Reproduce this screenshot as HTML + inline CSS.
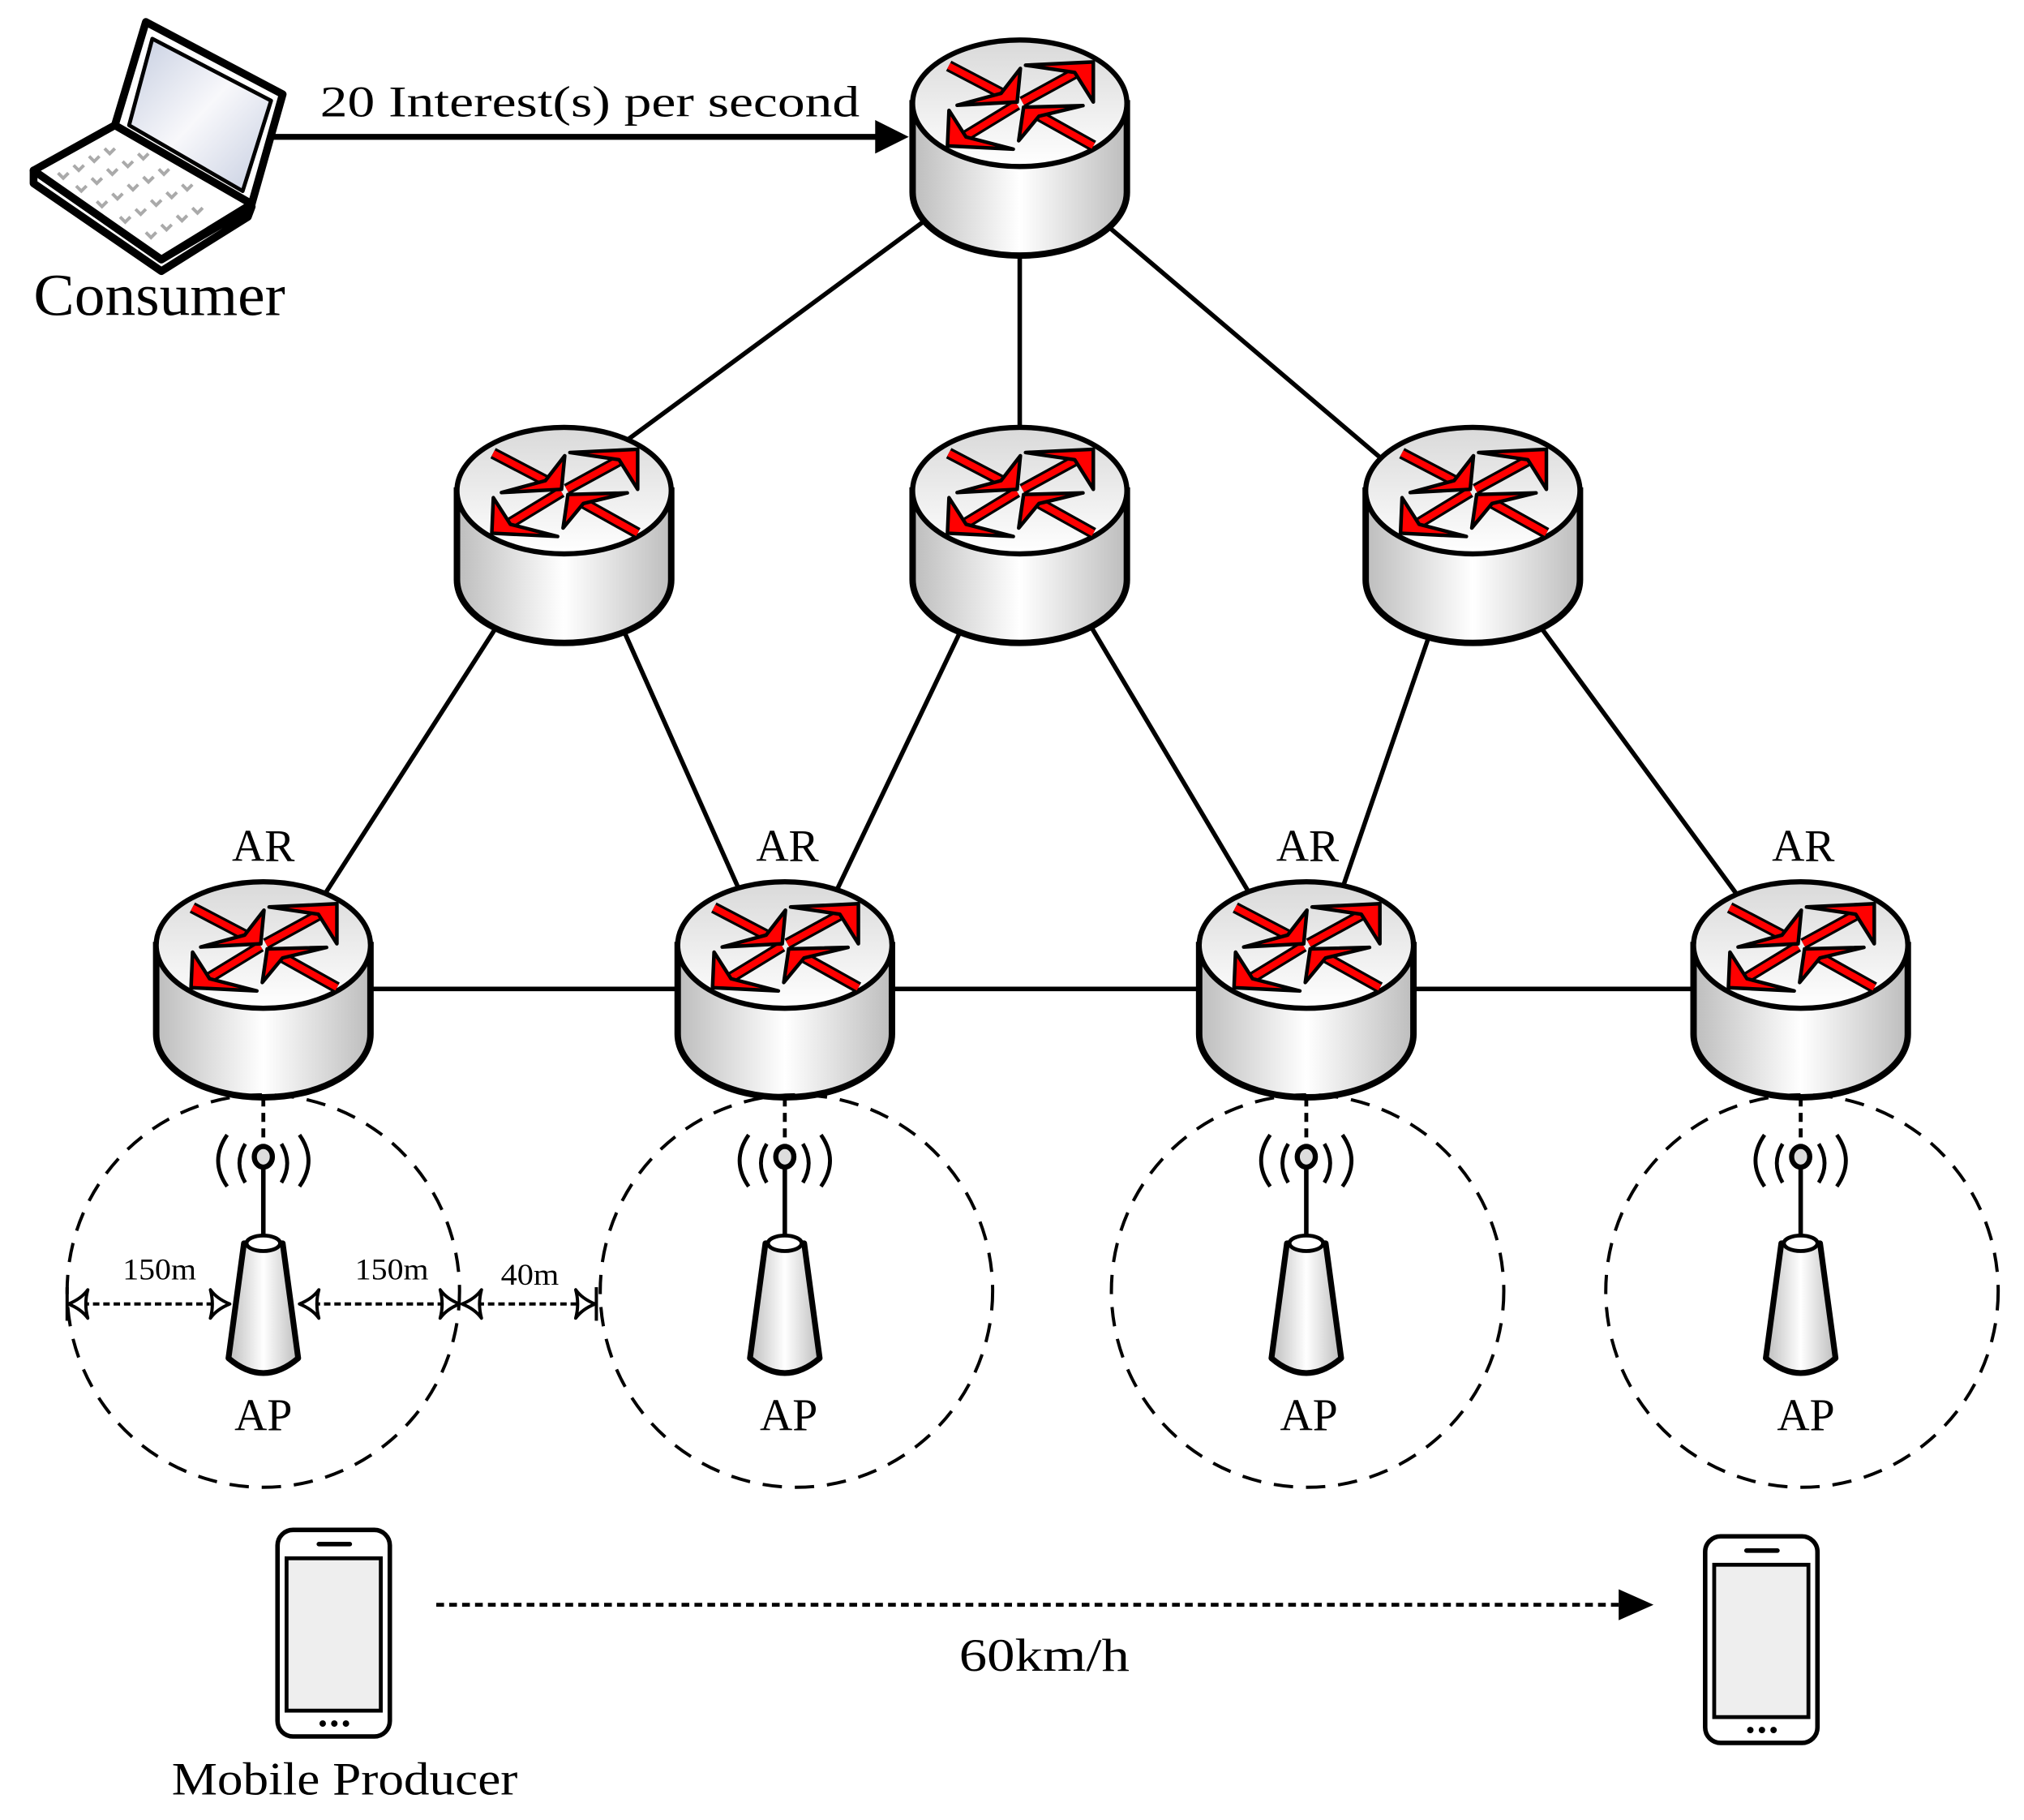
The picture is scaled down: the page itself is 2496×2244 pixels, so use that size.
<!DOCTYPE html>
<html><head><meta charset="utf-8"><style>html,body{margin:0;padding:0;background:#fff}svg{display:block}</style></head>
<body>
<svg width="2496" height="2244" viewBox="0 0 1568 1409.7" xmlns="http://www.w3.org/2000/svg">
<defs>
<linearGradient id="side" x1="0" x2="1" y1="0" y2="0">
<stop offset="0" stop-color="#bdbdbd"/><stop offset="0.5" stop-color="#ffffff"/><stop offset="1" stop-color="#bdbdbd"/></linearGradient>
<linearGradient id="top" x1="0" x2="0" y1="0" y2="1">
<stop offset="0" stop-color="#d9d9d9"/><stop offset="1" stop-color="#ffffff"/></linearGradient>
<linearGradient id="scr" x1="0" x2="1" y1="0" y2="1">
<stop offset="0" stop-color="#c5cde0"/><stop offset="0.5" stop-color="#f8f8fb"/><stop offset="1" stop-color="#c5cde0"/></linearGradient>
<g id="router">
<path d="M-83 0 L-83 69 A83 49 0 0 0 83 69 L83 0 Z" fill="url(#side)" stroke="#000" stroke-width="5"/>
<ellipse cx="0" cy="0" rx="83" ry="49" fill="url(#top)" stroke="#000" stroke-width="4"/>
<g stroke-linecap="butt">
<line x1="-55" y1="-29" x2="-13" y2="-7" stroke="#000" stroke-width="9"/>
<line x1="2" y1="-1" x2="44" y2="-24" stroke="#000" stroke-width="9"/>
<line x1="-2" y1="1" x2="-43" y2="26" stroke="#000" stroke-width="9"/>
<line x1="57" y1="33" x2="14" y2="9" stroke="#000" stroke-width="9"/>
<line x1="-55" y1="-29" x2="-13" y2="-7" stroke="#f00" stroke-width="5"/>
<line x1="2" y1="-1" x2="44" y2="-24" stroke="#f00" stroke-width="5"/>
<line x1="-2" y1="1" x2="-43" y2="26" stroke="#f00" stroke-width="5"/>
<line x1="57" y1="33" x2="14" y2="9" stroke="#f00" stroke-width="5"/>
</g>
<g fill="#f00" stroke="#000" stroke-width="2.8" stroke-linejoin="round">
<polygon points="-2,-1 0.5,-27 -14.5,-7.7 -48.5,1.5"/>
<polygon points="57,-32 4.5,-29.5 42.6,-23.9 57,-1"/>
<polygon points="-56,33 -54.8,5.5 -41.6,26.1 -5,35.5"/>
<polygon points="3,3 49,1.8 14.9,10 -0.8,29"/>
</g>
</g>
<g id="ap">
<line x1="0" y1="850" x2="0" y2="890" stroke="#000" stroke-width="3" stroke-dasharray="7 5"/>
<line x1="0" y1="896" x2="0" y2="963" stroke="#000" stroke-width="3.5"/>
<g fill="none" stroke="#000" stroke-width="3">
<path d="M-14 886 Q-23 901 -14 916"/><path d="M14 886 Q23 901 14 916"/>
<path d="M-28 879 Q-42 899 -28 919"/><path d="M28 879 Q42 899 28 919"/>
</g>
<ellipse cx="0" cy="896" rx="7" ry="8" fill="#ddd" stroke="#000" stroke-width="4"/>
<path d="M-15 963 L-27 1052 Q0 1075 27 1052 L15 963 Z" fill="url(#side)" stroke="#000" stroke-width="4.5" stroke-linejoin="round"/>
<ellipse cx="0" cy="963" rx="13" ry="6" fill="#fff" stroke="#000" stroke-width="3"/>
</g>
<g id="head">
<path d="M0 0 Q-10 -4 -15 -11 Q-12 0 -15 11 Q-10 4 0 0 Z" fill="#fff" stroke="#000" stroke-width="2.5" stroke-linejoin="round"/>
</g>
<g id="phone">
<rect x="0" y="0" width="87" height="160" rx="12" fill="#fff" stroke="#000" stroke-width="3.5"/>
<rect x="7" y="22" width="73" height="118" fill="#eee" stroke="#000" stroke-width="3"/>
<line x1="32" y1="11" x2="56" y2="11" stroke="#000" stroke-width="3.5" stroke-linecap="round"/>
<circle cx="35" cy="150" r="2.5"/><circle cx="44" cy="150" r="2.5"/><circle cx="53" cy="150" r="2.5"/>
</g>
</defs>

<g stroke="#000" stroke-width="3.5">
<line x1="715" y1="172" x2="487" y2="340"/>
<line x1="790" y1="199" x2="790" y2="332"/>
<line x1="858" y1="175" x2="1070" y2="355"/>
<line x1="385" y1="485" x2="252" y2="692"/>
<line x1="483" y1="488" x2="573" y2="690"/>
<line x1="745" y1="487" x2="648" y2="690"/>
<line x1="845" y1="485" x2="968" y2="692"/>
<line x1="1108" y1="490" x2="1040" y2="688"/>
<line x1="1193" y1="485" x2="1345" y2="692"/>
<line x1="287" y1="766" x2="1313" y2="766"/>
</g>

<g stroke="#000" stroke-linejoin="round">
<polygon points="26,132 26,142 125,210 192,168 195,160 125,201" fill="#fff" stroke-width="6"/>
<polygon points="26,132 89,97 195,158 125,201" fill="#fff" stroke-width="6"/>
<polygon points="113,17 219,73 195,158 89,97" fill="#fff" stroke-width="6"/>
<polygon points="118,30 210,78 188,148 100,97" fill="url(#scr)" stroke-width="3"/>
</g>
<g stroke="#aaa" stroke-width="2.5" fill="none">
<path d="M45 134 l4 4 l4 -4 M57 128 l4 4 l4 -4 M69 121 l4 4 l4 -4 M81 115 l4 4 l4 -4"/>
<path d="M59 144 l4 4 l4 -4 M71 138 l4 4 l4 -4 M83 131 l4 4 l4 -4 M95 125 l4 4 l4 -4 M107 119 l4 4 l4 -4"/>
<path d="M75 156 l4 4 l4 -4 M87 150 l4 4 l4 -4 M99 143 l4 4 l4 -4 M111 137 l4 4 l4 -4 M123 131 l4 4 l4 -4"/>
<path d="M93 168 l4 4 l4 -4 M105 162 l4 4 l4 -4 M117 155 l4 4 l4 -4 M129 149 l4 4 l4 -4 M141 143 l4 4 l4 -4"/>
<path d="M113 180 l4 4 l4 -4 M125 174 l4 4 l4 -4 M137 167 l4 4 l4 -4 M149 161 l4 4 l4 -4"/>
</g>
<line x1="212" y1="106" x2="680" y2="106" stroke="#000" stroke-width="4.5"/>
<polygon points="678,93 704,106 678,119" fill="#000"/>

<use href="#router" x="790" y="80"/>
<use href="#router" x="437" y="380"/>
<use href="#router" x="790" y="380"/>
<use href="#router" x="1141" y="380"/>
<use href="#router" x="204" y="732"/>
<use href="#router" x="608" y="732"/>
<use href="#router" x="1012" y="732"/>
<use href="#router" x="1395" y="732"/>

<g fill="none" stroke="#000" stroke-width="2.5" stroke-dasharray="15 10">
<circle cx="204" cy="1000" r="152"/>
<circle cx="617" cy="1000" r="152"/>
<circle cx="1013" cy="1000" r="152"/>
<circle cx="1396" cy="1000" r="152"/>
</g>
<use href="#ap" x="204" y="0"/>
<use href="#ap" x="608" y="0"/>
<use href="#ap" x="1012" y="0"/>
<use href="#ap" x="1395" y="0"/>

<g stroke="#000" stroke-width="2.5" stroke-dasharray="5 3">
<line x1="56" y1="1010" x2="175" y2="1010"/>
<line x1="235" y1="1010" x2="352" y2="1010"/>
<line x1="362" y1="1010" x2="458" y2="1010"/>
</g>
<g stroke="#000" stroke-width="2.5">
<line x1="52" y1="997" x2="52" y2="1023"/>
<line x1="462" y1="997" x2="462" y2="1023"/>
</g>
<use href="#head" transform="translate(53,1010) rotate(180)"/>
<use href="#head" transform="translate(178,1010)"/>
<use href="#head" transform="translate(232,1010) rotate(180)"/>
<use href="#head" transform="translate(356,1010)"/>
<use href="#head" transform="translate(358,1010) rotate(180)"/>
<use href="#head" transform="translate(461,1010)"/>

<use href="#phone" x="215" y="1185"/>
<use href="#phone" x="1321" y="1190"/>
<line x1="338" y1="1243" x2="1256" y2="1243" stroke="#000" stroke-width="3" stroke-dasharray="6 4"/>
<polygon points="1254,1231 1281,1243 1254,1255" fill="#000"/>

<g font-family="'Liberation Serif', serif" fill="#000">
<text x="248" y="90" font-size="34" textLength="418" lengthAdjust="spacingAndGlyphs">20 Interest(s)  per second</text>
<text x="26" y="244" font-size="46" textLength="195" lengthAdjust="spacingAndGlyphs">Consumer</text>
<g font-size="35" text-anchor="middle">
<text x="204" y="667">AR</text><text x="610" y="667">AR</text><text x="1013" y="667">AR</text><text x="1397" y="667">AR</text>
<text x="204" y="1108">AP</text><text x="611" y="1108">AP</text><text x="1014" y="1108">AP</text><text x="1399" y="1108">AP</text>
</g>
<text x="743" y="1294" font-size="36" textLength="132" lengthAdjust="spacingAndGlyphs">60km/h</text>
<g font-size="23">
<text x="95" y="991" textLength="57" lengthAdjust="spacingAndGlyphs">150m</text>
<text x="275" y="991" textLength="57" lengthAdjust="spacingAndGlyphs">150m</text>
<text x="388" y="995" textLength="45" lengthAdjust="spacingAndGlyphs">40m</text>
</g>
<text x="133" y="1390" font-size="36" textLength="268" lengthAdjust="spacingAndGlyphs">Mobile Producer</text>
</g>
</svg>
</body></html>
